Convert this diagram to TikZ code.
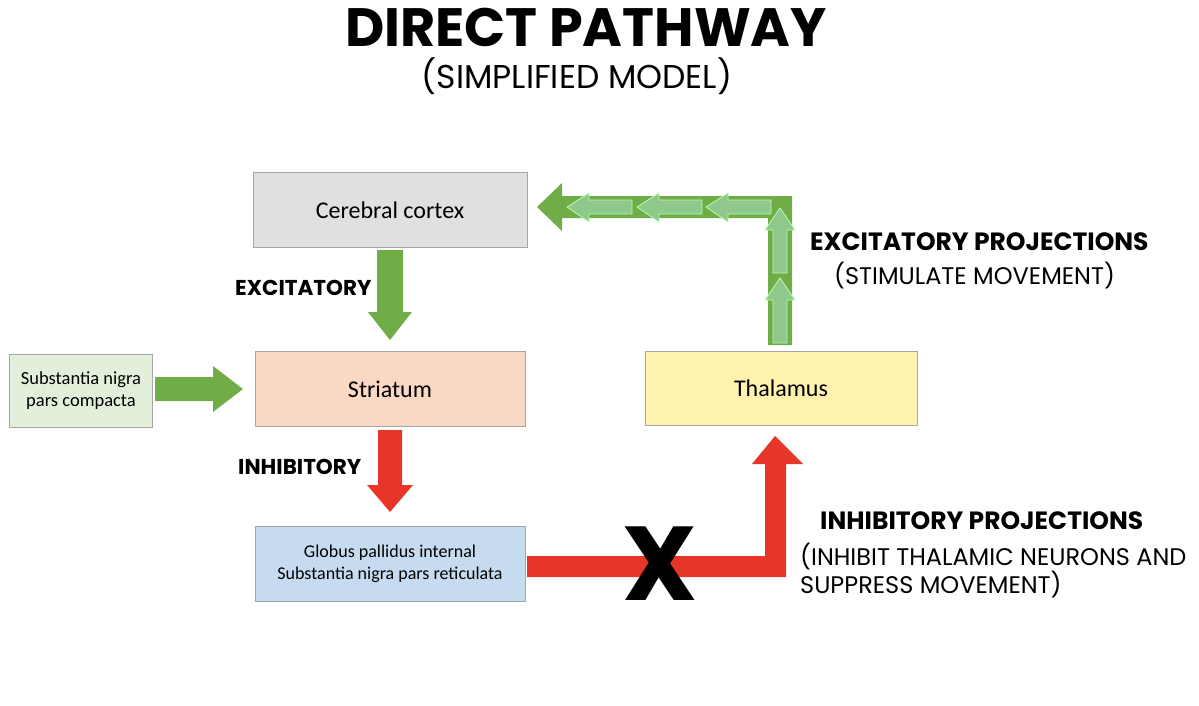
\documentclass[tikz,border=0pt]{standalone}
\usepackage{fontspec}
\setmainfont{Carlito}
\newfontfamily\hand{Poppins}
\begin{document}
\begin{tikzpicture}[x=1pt,y=-1pt,
  box/.style={draw=black!35,line width=0.8pt,minimum width=#1,minimum height=75,inner sep=2pt,align=center},
  lbl/.style={font=\hand\bfseries\fontsize{25}{28}\selectfont,anchor=west,inner sep=0pt},
  sub/.style={font=\hand\fontsize{24}{28}\selectfont,anchor=west,align=left,inner sep=0pt}]
\useasboundingbox (0,0) rectangle (1199,705);
\definecolor{gdark}{HTML}{70AD47}\definecolor{glight}{HTML}{8FC88A}
\definecolor{rred}{HTML}{E8352A}
\node[font=\hand\bfseries\fontsize{54}{58}\selectfont] (t1) at (586,27) {DIRECT PATHWAY};
\node[font=\hand\fontsize{33}{36}\selectfont] (t2) at (577,76) {(SIMPLIFIED MODEL)};
\node[box=274,fill=black!12,font=\fontsize{24}{28}\selectfont] (cc) at (390,210) {Cerebral cortex};
\node[box=270,fill={rgb,255:red,249;green,217;blue,196},font=\fontsize{24}{28}\selectfont] (st) at (390,389) {Striatum};
\node[box=143,minimum height=73,fill={rgb,255:red,226;green,239;blue,218},font=\fontsize{18.5}{22}\selectfont] (sn) at (81,391) {Substantia nigra\\pars compacta};
\node[box=270,fill={rgb,255:red,198;green,219;blue,240},font=\fontsize{18}{22}\selectfont] (gp) at (390,564) {Globus pallidus internal\\Substantia nigra pars reticulata};
\node[box=272,minimum height=74,fill={rgb,255:red,255;green,242;blue,175},font=\fontsize{24}{28}\selectfont] (th) at (781,388) {Thalamus};
% green down arrow
\fill[gdark] (377,250) -- (403,250) -- (403,312) -- (412,312) -- (390,340) -- (368,312) -- (377,312) -- cycle;
% SN arrow
\fill[gdark] (155,377) -- (213,377) -- (213,366) -- (243,389) -- (213,412) -- (213,401) -- (155,401) -- cycle;
% red down arrow
\fill[rred] (378,430) -- (402,430) -- (402,485) -- (413,485) -- (390,512) -- (367,485) -- (378,485) -- cycle;
% red L
\fill[rred] (527,556) -- (765,556) -- (765,464) -- (752,464) -- (775,436) -- (803,464) -- (786,464) -- (786,577) -- (527,577) -- cycle;
% green L
\fill[gdark] (792,345) -- (768,345) -- (768,218) -- (562,218) -- (562,231) -- (537,207) -- (562,183) -- (562,196) -- (792,196) -- cycle;
\begin{scope}[fill=glight,draw=green!30!white,line width=0.8pt]
\foreach \x in {567,637,706}{
 \filldraw (\x,207) -- (\x+22,193) -- (\x+22,200) -- (\x+65,200) -- (\x+65,214) -- (\x+22,214) -- (\x+22,222) -- cycle;}
\foreach \y in {208,278}{
 \filldraw (780,\y) -- (795,\y+22) -- (787,\y+22) -- (787,\y+65) -- (773,\y+65) -- (773,\y+22) -- (765,\y+22) -- cycle;}
\end{scope}
\node[font=\hand\bfseries\fontsize{105}{110}\selectfont] (x) at (660,564) {X};
\node[lbl,font=\hand\bfseries\fontsize{21.5}{24}\selectfont] (l1) at (235,288) {EXCITATORY};
\node[lbl,font=\hand\bfseries\fontsize{21.5}{24}\selectfont] (l2) at (238,467) {INHIBITORY};
\node[lbl] (l3) at (810,242) {EXCITATORY PROJECTIONS};
\node[sub] (l4) at (834,276) {(STIMULATE MOVEMENT)};
\node[lbl] (l5) at (820,521) {INHIBITORY PROJECTIONS};
\node[sub] (l6) at (800,571) {(INHIBIT THALAMIC NEURONS AND\\SUPPRESS MOVEMENT)};
\end{tikzpicture}
\end{document}
